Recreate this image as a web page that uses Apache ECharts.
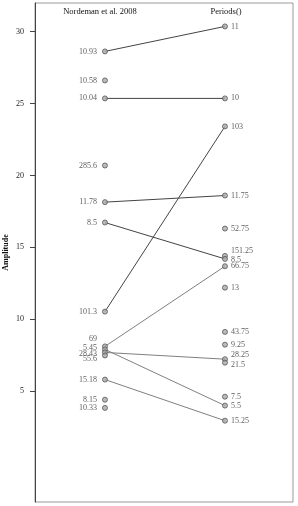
<!DOCTYPE html>
<html>
<head>
<meta charset="utf-8">
<script src="https://cdn.jsdelivr.net/npm/echarts@6/dist/echarts.min.js"></script>
<style>
  html, body { margin: 0; padding: 0; background: #fff; }
  #main { width: 298px; height: 506px; }
</style>
</head>
<body>
<div id="main"></div>
<script>
// column titles
var columnNames = ['Nordeman et al. 2008', 'Periods()'];

// left column (Nordeman et al. 2008)
var leftLabels = ['10.93', '10.58', '10.04', '285.6', '11.78', '8.5', '101.3', '69', '5.45', '28.43', '55.6', '15.18', '8.15', '10.33'];
var leftValues = [28.63, 26.61, 25.36, 20.69, 18.14, 16.72, 10.52, 8.10, 7.89, 7.68, 7.47, 5.79, 4.39, 3.82];

// right column (Periods())
var rightLabels = ['11', '10', '103', '11.75', '52.75', '151.25', '8.5', '66.75', '13', '43.75', '9.25', '28.25', '21.5', '7.5', '5.5', '15.25'];
var rightValues = [30.37, 25.36, 23.41, 18.60, 16.30, 14.40, 14.19, 13.68, 12.19, 9.11, 8.22, 7.21, 6.97, 4.60, 3.98, 2.93];

// connections: [left index, right index]
var darkLinks = [[0, 0], [2, 1], [6, 2], [4, 3], [5, 6]];
var greyLinks = [[7, 7], [9, 11], [8, 14], [11, 15]];

var yTicks = [5, 10, 15, 20, 25, 30];

// shift labels in the crowded spots
var leftLabelShift = { 7: [0, -7], 8: [0, -2], 9: [0, 1], 10: [0, 3] };
var rightLabelShift = { 5: [0, -5], 6: [0, 1], 11: [0, -4], 12: [0, 2] };

var font = 'Liberation Serif';

function pointData(x, values, labels, shift) {
  return values.map(function (v, i) {
    var d = { value: [x, v], name: labels[i] };
    if (shift[i]) d.label = { offset: shift[i] };
    return d;
  });
}

function linkSeries(links, color) {
  return links.map(function (l) {
    return {
      type: 'line',
      data: [[0, leftValues[l[0]]], [1, rightValues[l[1]]]],
      symbol: 'none',
      silent: true,
      lineStyle: { color: color, width: 1 },
      z: 1
    };
  });
}

var chart = echarts.init(document.getElementById('main'), null, { renderer: 'canvas' });

var option = {
  backgroundColor: '#ffffff',
  animation: false,
  textStyle: { fontFamily: font },
  grid: {
    left: 35, right: 5, top: 3, bottom: 4,
    containLabel: false, outerBoundsMode: 'none',
    show: true, borderColor: '#999', borderWidth: 1
  },
  graphic: [
    { type: 'text', x: 100, y: 12, style: { text: columnNames[0], align: 'center', verticalAlign: 'middle', font: '8.5px "Liberation Serif"', fill: '#111' } },
    { type: 'text', x: 226, y: 12, style: { text: columnNames[1], align: 'center', verticalAlign: 'middle', font: '8.5px "Liberation Serif"', fill: '#111' } }
  ],
  xAxis: {
    type: 'value', min: -0.583, max: 1.567,
    show: false
  },
  yAxis: {
    type: 'value', min: -2.73, max: 32.0,
    name: 'Amplitude', nameLocation: 'middle', nameGap: 25, nameMoveOverlap: false,
    nameTextStyle: { fontFamily: font, fontSize: 8, color: '#111', fontWeight: 'bold' },
    axisLine: { show: true, onZero: false, lineStyle: { color: '#444' } },
    axisTick: { show: true, length: 5, customValues: yTicks, lineStyle: { color: '#444' } },
    axisLabel: { customValues: yTicks, fontFamily: font, fontSize: 8, color: '#222', margin: 11 },
    splitLine: { show: false }
  },
  series: linkSeries(darkLinks, '#444').concat(linkSeries(greyLinks, '#808080')).concat([
    {
      type: 'scatter',
      data: pointData(0, leftValues, leftLabels, leftLabelShift),
      symbolSize: 5,
      itemStyle: { color: '#aaa', borderColor: '#555', borderWidth: 1 },
      label: { show: true, position: 'left', distance: 5, formatter: '{b}', fontFamily: font, fontSize: 8, color: '#333' },
      z: 3
    },
    {
      type: 'scatter',
      data: pointData(1, rightValues, rightLabels, rightLabelShift),
      symbolSize: 5,
      itemStyle: { color: '#aaa', borderColor: '#555', borderWidth: 1 },
      label: { show: true, position: 'right', distance: 3, formatter: '{b}', fontFamily: font, fontSize: 8, color: '#333' },
      z: 3
    }
  ])
};

chart.setOption(option);
</script>
</body>
</html>
